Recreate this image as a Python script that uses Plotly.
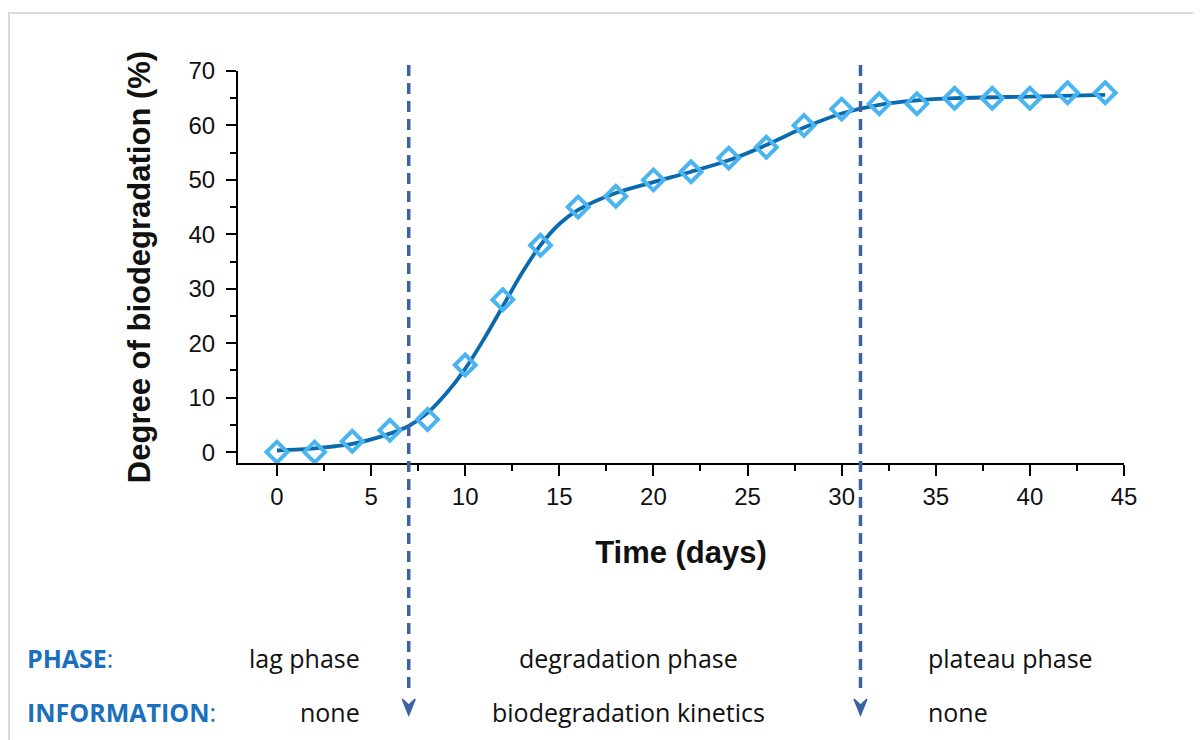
import plotly.graph_objects as go

# ---- data ----
days = [0, 2, 4, 6, 8, 10, 12, 14, 16, 18, 20, 22, 24, 26, 28, 30, 32, 34, 36, 38, 40, 42, 44]
degradation = [0, 0, 2, 4, 6, 16, 28, 38, 45, 47, 50, 51.5, 54, 56, 60, 63, 64, 64, 65, 65, 65, 66, 66]

fit_days = [0, 2, 4, 6, 7, 8, 9, 10, 11, 12, 13, 14, 15, 16, 18, 20, 22, 24, 26, 28, 30, 32, 34, 36, 40, 44]
fit_values = [0.3, 0.7, 1.5, 3.4, 4.8, 7.2, 10.8, 15.3, 20.8, 26.8, 32.8, 38.0, 41.9, 44.5, 47.6, 49.6, 51.5, 53.6, 56.4, 59.6, 62.2, 63.8, 64.6, 65.0, 65.3, 65.6]

phase_bounds = [7, 31]
phase_labels = ["lag phase", "degradation phase", "plateau phase"]
info_labels = ["none", "biodegradation kinetics", "none"]

# page has an 8px body margin; figure is shrunk so it still fits the 1201x740 window
OFF = 8
W, H = 1201 - OFF, 740 - OFF
L, R, T, B = 238, 1124, 71, 463   # plot area in window pixels


def px(xp):
    return (xp - L) / (R - L)


def py(yp):
    return (B - yp) / (B - T)


fig = go.Figure()

fig.add_trace(go.Scatter(
    x=fit_days, y=fit_values, mode="lines", line=dict(color="#0b6aae", width=3.8, shape="spline", smoothing=0.8),
    hoverinfo="skip", showlegend=False))

fig.add_trace(go.Scatter(
    x=days, y=degradation, mode="markers",
    marker=dict(symbol="diamond-open", size=16, color="#4ab4f0", line=dict(width=4, color="#4ab4f0")),
    showlegend=False, cliponaxis=False))

shapes = []
shapes.append(dict(type="rect", xref="paper", yref="paper", x0=px(9), x1=px(1215), y0=py(13), y1=py(760),
                   line=dict(color="#dadada", width=2), fillcolor="rgba(0,0,0,0)", layer="below"))
dash_col = "#3c62a3"
half = 6.5 / ((R - L) / (45 + 2.07))
for xb in phase_bounds:
    shapes.append(dict(type="line", xref="x", yref="paper", x0=xb, x1=xb, y0=py(65), y1=py(692),
                       line=dict(color=dash_col, width=3.5, dash="11px,7px")))
    shapes.append(dict(type="path", xref="x", yref="paper",
                       path=f"M {xb-half},{py(699)} L {xb},{py(715)} L {xb+half},{py(699)} L {xb},{py(705)} Z",
                       fillcolor=dash_col, line=dict(color=dash_col, width=1.5)))

annotations = []
lab_font = dict(family="Open Sans", size=25, color="#111111")
blue = "#1a70bd"
annotations.append(dict(x=px(25), y=py(658), xref="paper", yref="paper", xanchor="left", yanchor="middle",
                        text="<b>PHASE</b>:", showarrow=False, font=dict(family="Open Sans", size=25, color=blue)))
annotations.append(dict(x=px(25), y=py(712), xref="paper", yref="paper", xanchor="left", yanchor="middle",
                        text="<b>INFORMATION</b>:", showarrow=False, font=dict(family="Open Sans", size=25, color=blue)))
pos = [(px(362), "right"), (px(628), "center"), (px(926), "left")]
for (xp, anc), pl, il in zip(pos, phase_labels, info_labels):
    annotations.append(dict(x=xp, y=py(658), xref="paper", yref="paper", xanchor=anc, yanchor="middle",
                            text=pl, showarrow=False, font=lab_font))
    annotations.append(dict(x=xp, y=py(712), xref="paper", yref="paper", xanchor=anc, yanchor="middle",
                            text=il, showarrow=False, font=lab_font))

axis_common = dict(showline=True, linecolor="black", linewidth=2, ticks="outside", tickcolor="black",
                   tickwidth=2, showgrid=False, zeroline=False, mirror=False,
                   tickfont=dict(family="Liberation Sans, Arial", size=24, color="#111111"))

fig.update_layout(
    width=W, height=H, paper_bgcolor="white", plot_bgcolor="white",
    margin=dict(l=L - OFF, r=1201 - R, t=T - OFF, b=740 - B),
    xaxis=dict(range=[-2.07, 45], tickmode="array", tickvals=[0, 5, 10, 15, 20, 25, 30, 35, 40, 45], ticklen=11,
               minor=dict(tickvals=[2.5, 7.5, 12.5, 17.5, 22.5, 27.5, 32.5, 37.5, 42.5], ticklen=6, tickwidth=2,
                          tickcolor="black", ticks="outside"),
               title=dict(text="<b>Time (days)</b>", font=dict(family="Liberation Sans, Arial", size=31, color="#111111"),
                          standoff=33),
               **axis_common),
    yaxis=dict(range=[-2, 70], tickmode="array", tickvals=[0, 10, 20, 30, 40, 50, 60, 70], ticklen=10,
               ticklabelstandoff=6,
               minor=dict(tickvals=[5, 15, 25, 35, 45, 55, 65], ticklen=6, tickwidth=2,
                          tickcolor="black", ticks="outside"),
               title=dict(text="<b>Degree of biodegradation (%)</b>",
                          font=dict(family="Liberation Sans, Arial", size=31, color="#111111"), standoff=29),
               **axis_common),
    shapes=shapes, annotations=annotations,
)

fig.write_html("out.html")
